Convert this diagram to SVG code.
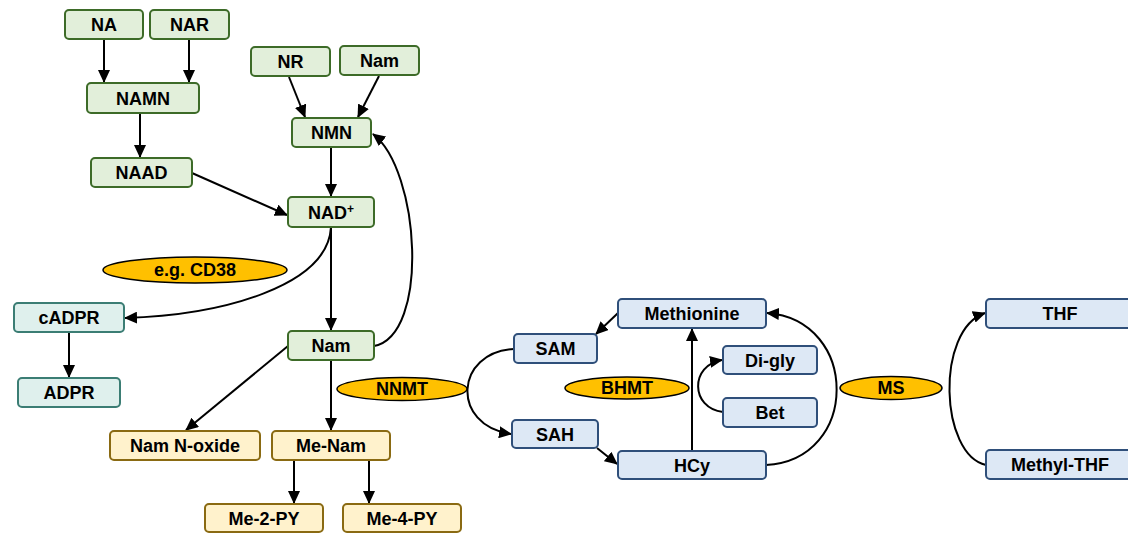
<svg xmlns="http://www.w3.org/2000/svg" width="1128" height="533" viewBox="0 0 1128 533">
<defs>
<style>
text{font-family:"Liberation Sans",Arial,sans-serif;font-weight:bold;font-size:18px;text-anchor:middle;fill:#000}
.g rect{fill:#e2efda;stroke:#3d6b28;stroke-width:2}
.t rect{fill:#dff0ed;stroke:#3b7d74;stroke-width:2}
.y rect{fill:#fff2cc;stroke:#8a6a12;stroke-width:2}
.b rect{fill:#dde8f5;stroke:#2f4f7a;stroke-width:2}
.e ellipse{fill:#ffc000;stroke:#000;stroke-width:1.5}
#connectors path{fill:none;stroke:#000;stroke-width:2;marker-end:url(#ah)}
</style>
<marker id="ah" viewBox="0 0 13 12" refX="12" refY="6" markerWidth="13" markerHeight="12" markerUnits="userSpaceOnUse" orient="auto">
<path d="M0,0 L13,6 L0,12 Z" fill="#000"/>
</marker>
</defs>
<rect width="1128" height="533" fill="#fff"/>

<g id="connectors">
<path d="M104,39 V82"/>
<path d="M189,39 V82"/>
<path d="M140,113 V157"/>
<path d="M289,77 L305,117"/>
<path d="M379,76 L358,117"/>
<path d="M331,147 V196"/>
<path d="M192,173 L287,215"/>
<path d="M331,227 V330"/>
<path d="M331,227 C328,285 225,315 125,318"/>
<path d="M374,346 C430,335 420,170 373,134"/>
<path d="M69,332 V377"/>
<path d="M288,346 L186,430"/>
<path d="M331,360 V430"/>
<path d="M294,460 V503"/>
<path d="M369,460 V503"/>
<path d="M618,313 L596,334"/>
<path d="M514,349 C455,352 450,425 511,434"/>
<path d="M597,448 L617,464"/>
<path d="M692,451 V329"/>
<path d="M723,412 C690,408 690,365 722,360"/>
<path d="M766,465 C860,460 860,320 767,313"/>
<path d="M986,465 C940,455 935,330 985,313"/>
</g>

<g id="NA" class="g"><rect x="65" y="10" width="78" height="29" rx="4"/><text x="104" y="31">NA</text></g>
<g id="NAR" class="g"><rect x="150" y="10" width="79" height="29" rx="4"/><text x="189.5" y="31">NAR</text></g>
<g id="NAMN" class="g"><rect x="87" y="83" width="112" height="30" rx="4"/><text x="143" y="104.5">NAMN</text></g>
<g id="NAAD" class="g"><rect x="91" y="158" width="101" height="29" rx="4"/><text x="141.5" y="179">NAAD</text></g>
<g id="NR" class="g"><rect x="251" y="47" width="79" height="29" rx="4"/><text x="290.5" y="68">NR</text></g>
<g id="Nam-top" class="g"><rect x="340" y="46" width="79" height="29" rx="4"/><text x="379.5" y="67">Nam</text></g>
<g id="NMN" class="g"><rect x="292" y="118" width="79" height="29" rx="4"/><text x="331.5" y="139">NMN</text></g>
<g id="NADplus" class="g"><rect x="288" y="197" width="86" height="30" rx="4"/><text x="331" y="218.5">NAD<tspan font-size="12" dy="-6">+</tspan></text></g>
<g id="Nam" class="g"><rect x="288" y="331" width="86" height="29" rx="4"/><text x="331" y="352">Nam</text></g>

<g id="cADPR" class="t"><rect x="14" y="303" width="110" height="29" rx="4"/><text x="69" y="324">cADPR</text></g>
<g id="ADPR" class="t"><rect x="18" y="378" width="102" height="29" rx="4"/><text x="69" y="399">ADPR</text></g>

<g id="NamNoxide" class="y"><rect x="110" y="431" width="150" height="29" rx="4"/><text x="185" y="452">Nam N-oxide</text></g>
<g id="MeNam" class="y"><rect x="272" y="431" width="118" height="29" rx="4"/><text x="331" y="452">Me-Nam</text></g>
<g id="Me2PY" class="y"><rect x="205" y="504" width="118" height="28" rx="4"/><text x="264" y="525">Me-2-PY</text></g>
<g id="Me4PY" class="y"><rect x="343" y="504" width="118" height="28" rx="4"/><text x="402" y="525">Me-4-PY</text></g>

<g id="Methionine" class="b"><rect x="618" y="299" width="148" height="29" rx="4"/><text x="692" y="320">Methionine</text></g>
<g id="SAM" class="b"><rect x="514" y="334" width="83" height="29" rx="4"/><text x="555.5" y="355">SAM</text></g>
<g id="SAH" class="b"><rect x="512" y="420" width="86" height="28" rx="4"/><text x="555" y="440.5">SAH</text></g>
<g id="HCy" class="b"><rect x="618" y="451" width="148" height="28" rx="4"/><text x="692" y="471.5">HCy</text></g>
<g id="Digly" class="b"><rect x="723" y="346" width="94" height="28" rx="4"/><text x="770" y="366.5">Di-gly</text></g>
<g id="Bet" class="b"><rect x="723" y="398" width="94" height="29" rx="4"/><text x="770" y="419">Bet</text></g>
<g id="THF" class="b"><rect x="986" y="299" width="150" height="29" rx="4"/><text x="1060" y="320">THF</text></g>
<g id="MethylTHF" class="b"><rect x="986" y="450" width="150" height="29" rx="4"/><text x="1060" y="471">Methyl-THF</text></g>

<g id="CD38" class="e"><ellipse cx="195" cy="270" rx="92" ry="13"/><text x="195" y="276">e.g. CD38</text></g>
<g id="NNMT" class="e"><ellipse cx="402" cy="389" rx="65" ry="11.5"/><text x="402" y="395">NNMT</text></g>
<g id="BHMT" class="e"><ellipse cx="627" cy="388" rx="62" ry="11"/><text x="627" y="394">BHMT</text></g>
<g id="MS" class="e"><ellipse cx="891" cy="388" rx="51" ry="11.5"/><text x="891" y="394">MS</text></g>
</svg>
